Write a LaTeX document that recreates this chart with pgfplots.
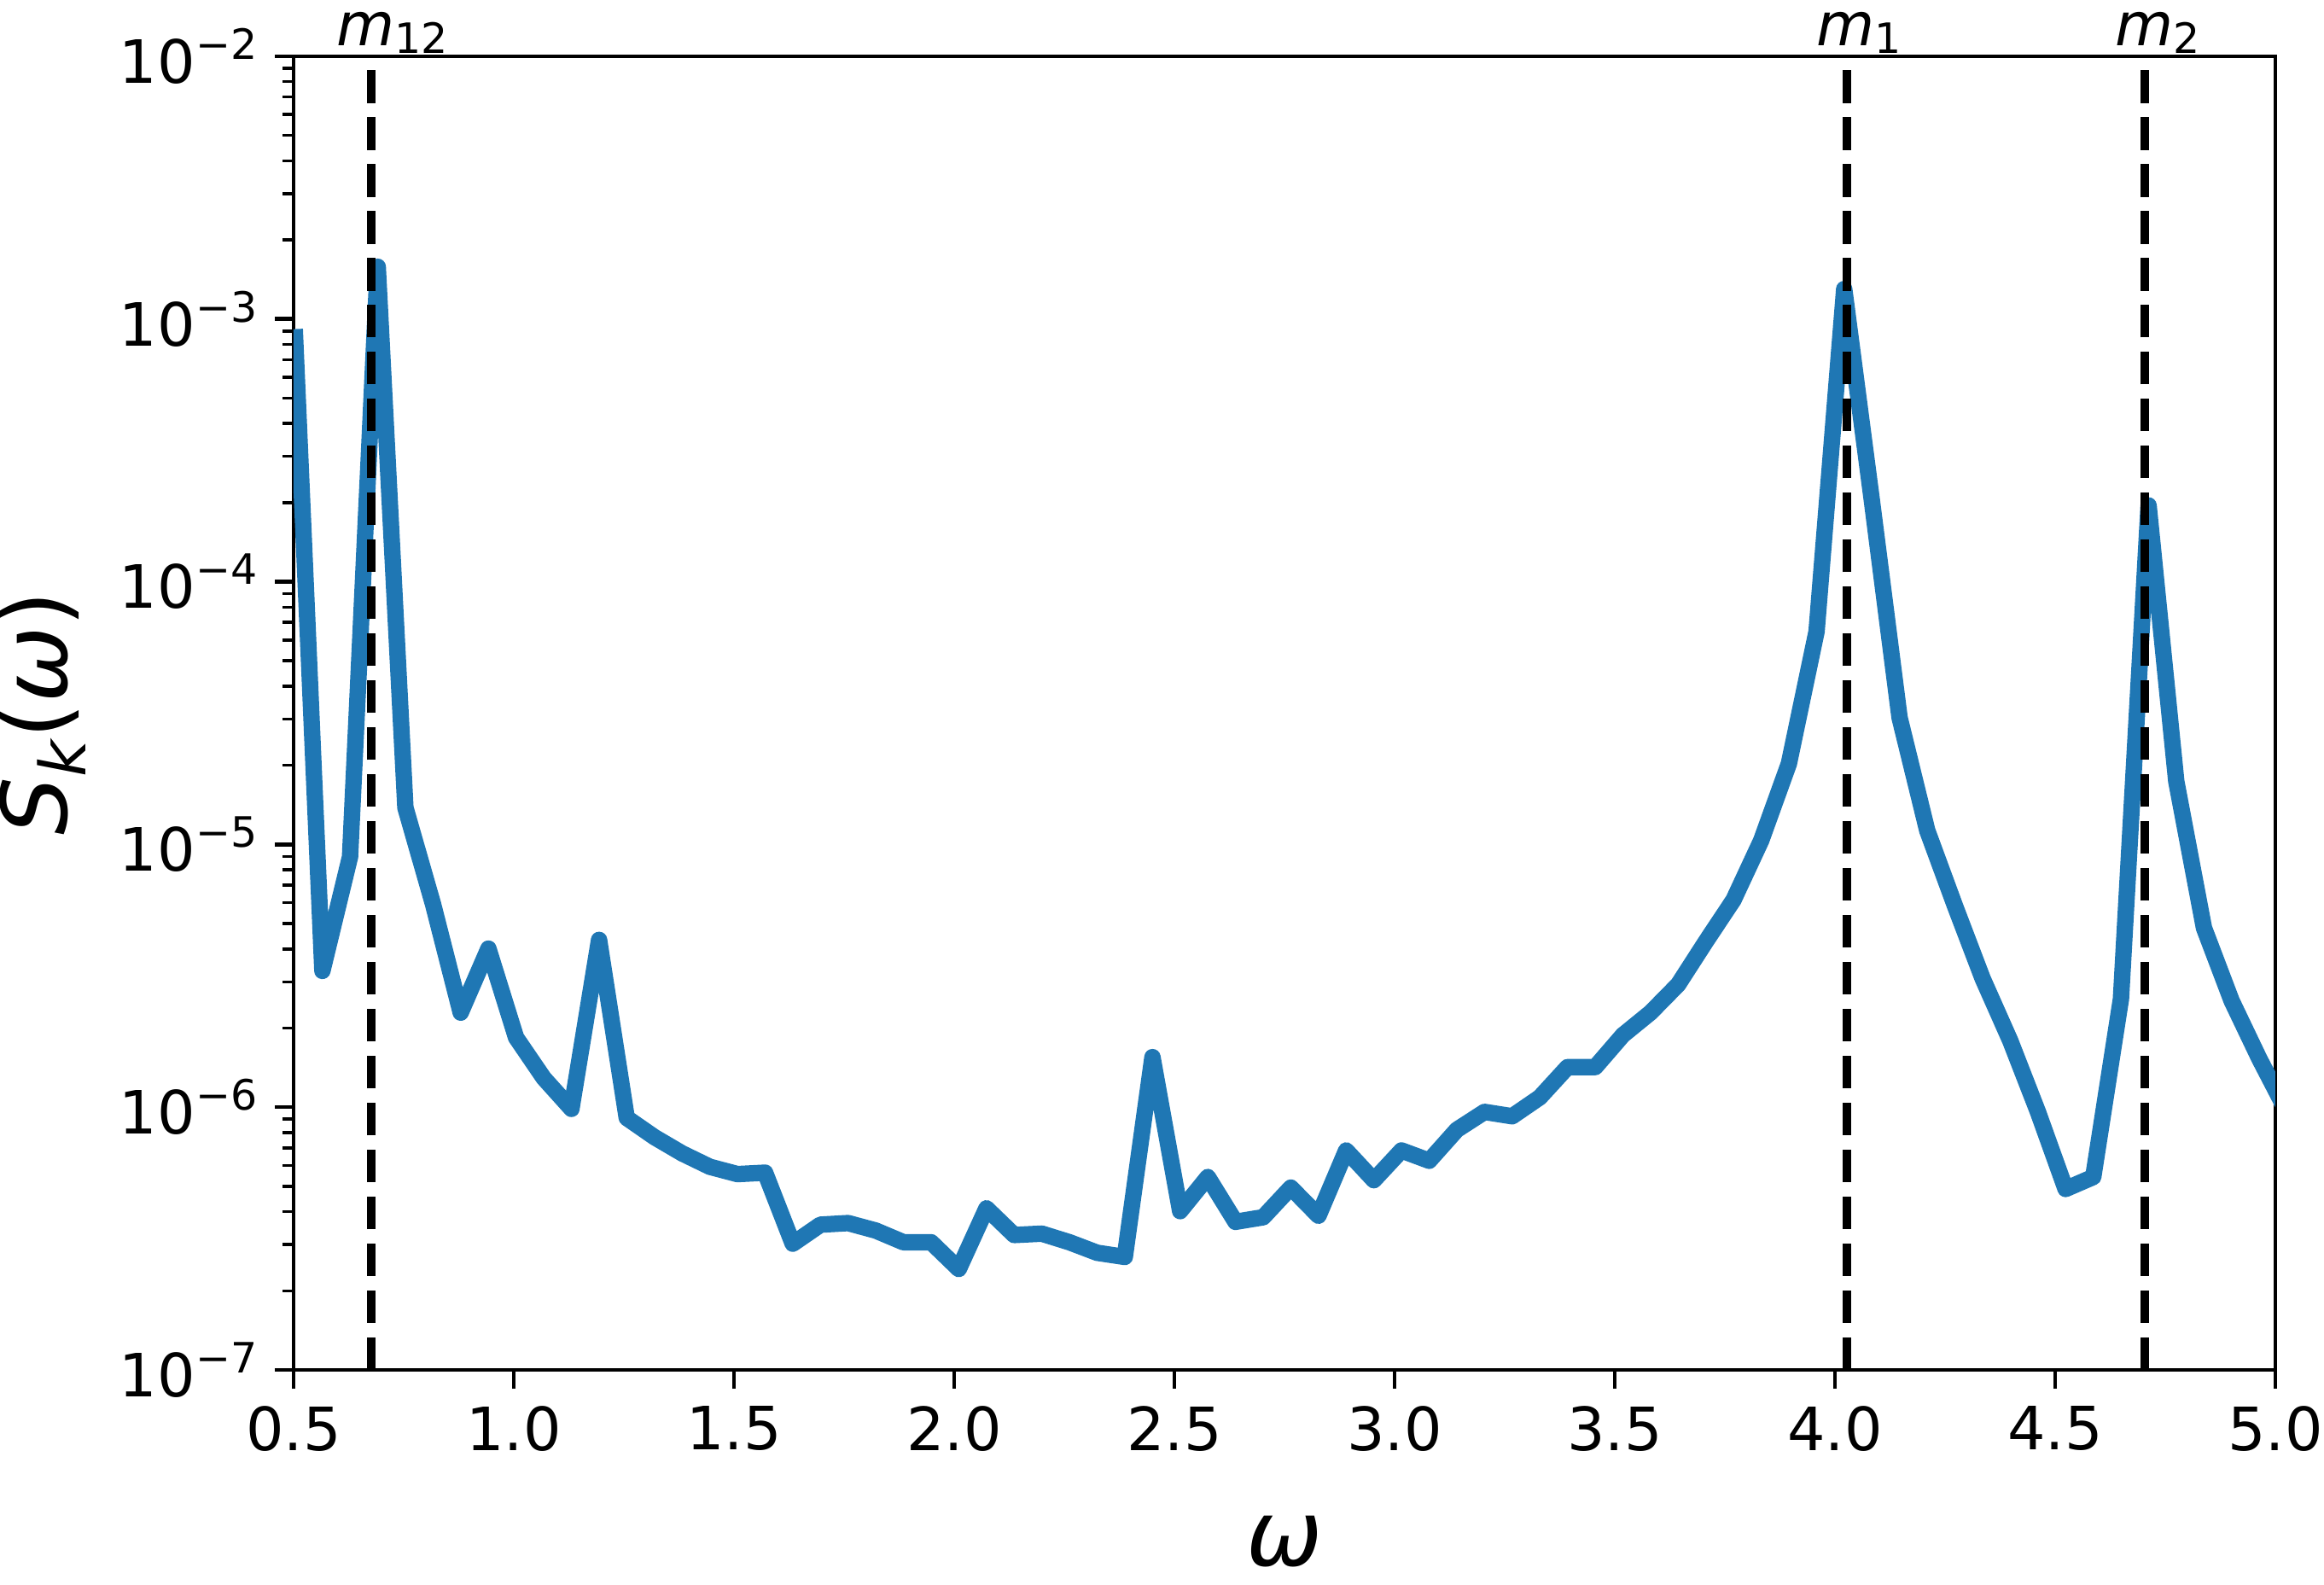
\documentclass[border=0pt]{standalone}
\usepackage{fontspec}
\setmainfont{DejaVu Sans}
\usepackage{pgfplots}
\pgfplotsset{compat=1.18}
\definecolor{mplblue}{HTML}{1F77B4}
\newcommand{\tp}[1]{10\raisebox{0.4em}{\fontsize{8.4}{10}\selectfont −#1}}
\newcommand{\mlab}[1]{\textit{m}\raisebox{-1.7pt}{\fontsize{8.4}{10}\selectfont #1}}
\begin{document}
\begin{tikzpicture}
\begin{axis}[
  at={(0,0)}, anchor=south west,
  scale only axis, width=398.3pt, height=264pt,
  xmin=0.5, xmax=5, ymin=1e-7, ymax=1e-2, ymode=log,
  clip mode=individual,
  axis line style={line width=0.8pt},
  tick align=outside, xtick pos=bottom, ytick pos=left,
  major tick length=3.8pt, minor tick length=2.2pt,
  major tick style={line width=0.8pt, black},
  minor tick style={line width=0.6pt, black},
  xtick={0.5,1,1.5,2,2.5,3,3.5,4,4.5,5},
  xticklabels={0.5,1.0,1.5,2.0,2.5,3.0,3.5,4.0,4.5,5.0},
  ytick={1e-7,1e-6,1e-5,1e-4,1e-3,1e-2},
  yticklabels={\tp{7},\tp{6},\tp{5},\tp{4},\tp{3},\tp{2}},
  minor ytick={2e-7,3e-7,4e-7,5e-7,6e-7,7e-7,8e-7,9e-7,
               2e-6,3e-6,4e-6,5e-6,6e-6,7e-6,8e-6,9e-6,
               2e-5,3e-5,4e-5,5e-5,6e-5,7e-5,8e-5,9e-5,
               2e-4,3e-4,4e-4,5e-4,6e-4,7e-4,8e-4,9e-4,
               2e-3,3e-3,4e-3,5e-3,6e-3,7e-3,8e-3,9e-3},
  tick label style={font=\fontsize{12}{14}\selectfont},
  xlabel={\textit{ω}},
  ylabel={\textit{S}\raisebox{-0.2em}{\fontsize{12.8}{14}\selectfont\textit{k}}(\textit{ω})},
  xlabel style={at={(axis description cs:0.5,-0.1307)}, anchor=center, font=\fontsize{18.3}{22}\selectfont},
  ylabel style={at={(axis description cs:-0.127,0.5)}, anchor=center, rotate=0, font=\fontsize{18.3}{22}\selectfont},
]
\addplot[mplblue, line width=3.3pt, line join=round] coordinates {
(0.5027,9.15e-4) (0.5655,3.30e-6) (0.6283,8.97e-6) (0.6912,1.58e-3)
(0.7540,1.38e-5) (0.8168,5.92e-6) (0.8796,2.29e-6) (0.9425,4.01e-6)
(1.0053,1.84e-6) (1.0681,1.29e-6) (1.1310,9.85e-7) (1.1938,4.33e-6)
(1.2566,9.10e-7) (1.3195,7.69e-7) (1.3823,6.67e-7) (1.4451,5.93e-7)
(1.5080,5.56e-7) (1.5708,5.63e-7) (1.6336,3.02e-7) (1.6965,3.57e-7)
(1.7593,3.62e-7) (1.8221,3.39e-7) (1.8850,3.06e-7) (1.9478,3.06e-7)
(2.0106,2.42e-7) (2.0735,4.12e-7) (2.1363,3.26e-7) (2.1991,3.30e-7)
(2.2619,3.06e-7) (2.3248,2.79e-7) (2.3876,2.69e-7) (2.4504,1.55e-6)
(2.5133,4.02e-7) (2.5761,5.42e-7) (2.6389,3.66e-7) (2.7018,3.81e-7)
(2.7646,4.94e-7) (2.8274,3.86e-7) (2.8903,6.84e-7) (2.9531,5.27e-7)
(3.0159,6.84e-7) (3.0788,6.25e-7) (3.1416,8.20e-7) (3.2044,9.59e-7)
(3.2673,9.23e-7) (3.3301,1.09e-6) (3.3929,1.42e-6) (3.4558,1.42e-6)
(3.5186,1.88e-6) (3.5814,2.29e-6) (3.6442,2.93e-6) (3.7071,4.27e-6)
(3.7699,6.15e-6) (3.8327,1.035e-5) (3.8956,2.03e-5) (3.9584,6.46e-5)
(4.0212,1.30e-3) (4.0841,2.03e-4) (4.1469,3.04e-5) (4.2097,1.13e-5)
(4.2726,5.84e-6) (4.3354,3.09e-6) (4.3982,1.79e-6) (4.4611,9.59e-7)
(4.5239,4.88e-7) (4.5867,5.42e-7) (4.6496,2.58e-6) (4.7124,1.95e-4)
(4.7752,1.74e-5) (4.8381,4.81e-6) (4.9009,2.54e-6) (4.9637,1.53e-6)
(5.0265,9.59e-7)
};
\addplot[black, line width=1.72pt, dash pattern=on 6.57pt off 2.86pt] coordinates {(0.677,1e-7) (0.677,1e-2)};
\addplot[black, line width=1.72pt, dash pattern=on 6.57pt off 2.86pt] coordinates {(4.027,1e-7) (4.027,1e-2)};
\addplot[black, line width=1.72pt, dash pattern=on 6.57pt off 2.86pt] coordinates {(4.704,1e-7) (4.704,1e-2)};
\node[anchor=base, font=\fontsize{12}{14}\selectfont, inner sep=0pt] at (axis cs:0.677,1e-2) [yshift=2.2pt, xshift=4.2pt] {\mlab{12}};
\node[anchor=base, font=\fontsize{12}{14}\selectfont, inner sep=0pt] at (axis cs:4.027,1e-2) [yshift=2.2pt, xshift=2.5pt] {\mlab{1}};
\node[anchor=base, font=\fontsize{12}{14}\selectfont, inner sep=0pt] at (axis cs:4.704,1e-2) [yshift=2.2pt, xshift=2.5pt] {\mlab{2}};
\end{axis}
\pgfresetboundingbox
\path[use as bounding box] (-59pt,-43.2pt) rectangle (408.1pt,275.3pt);
\end{tikzpicture}
\end{document}
